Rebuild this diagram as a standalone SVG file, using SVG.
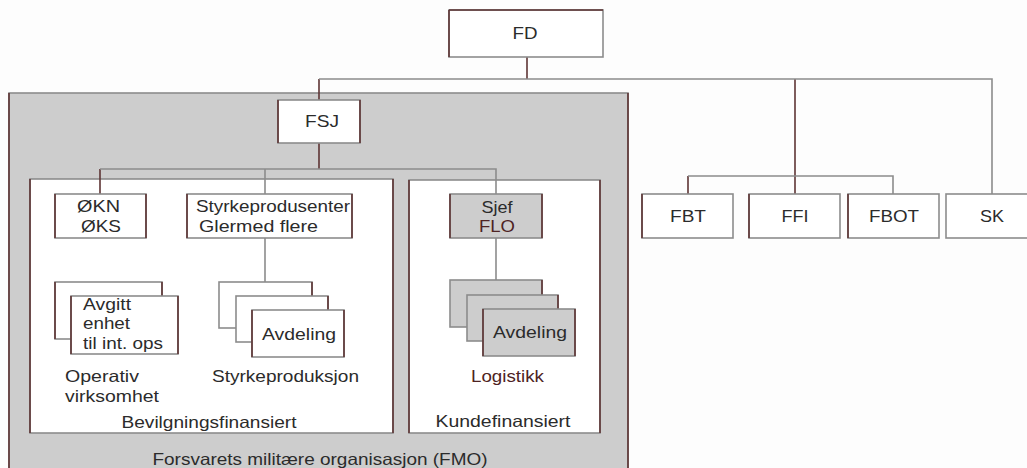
<svg xmlns="http://www.w3.org/2000/svg" width="1027" height="468" viewBox="0 0 1027 468">
<style>
text{font-family:"Liberation Sans",Arial,sans-serif;font-size:16.5px;fill:#2b2b2b}
.c{text-anchor:middle}
.m{fill:#4e2323}
.bx{fill:#fff;stroke:#8c8c8c;stroke-width:1.6}
.gb{fill:#cdcdcd;stroke:#8c8c8c;stroke-width:1.6}
.v{stroke:#5e3535;stroke-width:1.6;fill:none}
.h{stroke:#8c8c8c;stroke-width:1.6;fill:none}
</style>
<rect width="1027" height="468" fill="#fdfdfd"/>
<g id="fmo">
<rect x="9" y="93" width="619" height="390" class="gb"/>
<path d="M9 93V468M628 93V468" class="v"/>
<text x="320" y="465" class="c" textLength="335" lengthAdjust="spacingAndGlyphs">Forsvarets militære organisasjon (FMO)</text>
</g>
<g id="bevilgning">
<rect x="30" y="179" width="363" height="254" class="bx"/>
<path d="M30 179V433M393 179V433" class="v"/>
<text x="209" y="428" class="c" textLength="175" lengthAdjust="spacingAndGlyphs">Bevilgningsfinansiert</text>
</g>
<g id="kunde">
<rect x="409" y="180" width="191" height="253" class="bx"/>
<path d="M409 180V433M600 180V433" class="v"/>
<text x="503" y="427" class="c" textLength="135" lengthAdjust="spacingAndGlyphs">Kundefinansiert</text>
</g>
<g id="connectors">
<path d="M527 57V79M795 79V194M319 79V100M319 143V169M100 169V194M688 176V194" class="v"/>
<path d="M319 79H992V194M688 176H893V194M100 169H496V194M265 169V194M265 238V282M496 238V280" class="h"/>
</g>
<g id="fd">
<rect x="449" y="10" width="154" height="47" class="bx"/>
<path d="M449 10V57M449 10H603" class="v"/>
<text x="525" y="39" class="c" textLength="25" lengthAdjust="spacingAndGlyphs">FD</text>
</g>
<g id="fsj">
<rect x="278" y="100" width="82" height="43" class="bx"/>
<path d="M278 100V143M360 100V143" class="v"/>
<text x="322" y="127" class="c" textLength="34" lengthAdjust="spacingAndGlyphs">FSJ</text>
</g>
<g id="okn">
<rect x="55" y="194" width="91" height="44" class="bx"/>
<path d="M55 194V238M146 194V238" class="v"/>
<text x="98.5" y="212" class="c" textLength="43" lengthAdjust="spacingAndGlyphs">ØKN</text>
<text x="101" y="232" class="c" textLength="40" lengthAdjust="spacingAndGlyphs">ØKS</text>
</g>
<g id="styrkeprodusenter">
<rect x="187" y="194" width="165" height="44" class="bx"/>
<path d="M187 194V238M352 194V238" class="v"/>
<text x="196" y="212" textLength="154" lengthAdjust="spacingAndGlyphs">Styrkeprodusenter</text>
<text x="199" y="232" textLength="119" lengthAdjust="spacingAndGlyphs">Glermed flere</text>
</g>
<g id="sjef-flo">
<rect x="450" y="194" width="92" height="44" class="gb"/>
<path d="M450 194V238M542 194V238" class="v"/>
<text x="497" y="213" class="c" textLength="31" lengthAdjust="spacingAndGlyphs">Sjef</text>
<text x="497" y="232" class="c m" textLength="36" lengthAdjust="spacingAndGlyphs">FLO</text>
</g>
<g id="operativ">
<rect x="55" y="282" width="107" height="57" class="bx"/>
<path d="M55 282V339M162 282V296" class="v"/>
<rect x="71" y="296" width="107" height="58" class="bx"/>
<path d="M71 296V354M178 296V354" class="v"/>
<text x="83" y="310" textLength="48" lengthAdjust="spacingAndGlyphs">Avgitt</text>
<text x="83" y="329" textLength="47" lengthAdjust="spacingAndGlyphs">enhet</text>
<text x="83" y="349" textLength="80" lengthAdjust="spacingAndGlyphs">til int. ops</text>
<text x="65" y="382" textLength="74" lengthAdjust="spacingAndGlyphs">Operativ</text>
<text x="65" y="402" textLength="94" lengthAdjust="spacingAndGlyphs">virksomhet</text>
</g>
<g id="styrkeproduksjon">
<rect x="219" y="282" width="93" height="46" class="bx"/>
<path d="M312 282V296" class="v"/>
<rect x="236" y="296" width="92" height="46" class="bx"/>
<path d="M328 296V310" class="v"/>
<rect x="252" y="310" width="92" height="47" class="bx"/>
<path d="M252 310V357M344 310V357" class="v"/>
<text x="299" y="340" class="c" textLength="74" lengthAdjust="spacingAndGlyphs">Avdeling</text>
<text x="285.5" y="382" class="c" textLength="147" lengthAdjust="spacingAndGlyphs">Styrkeproduksjon</text>
</g>
<g id="logistikk">
<rect x="450" y="280" width="92" height="47" class="gb"/>
<path d="M542 280V295" class="v"/>
<rect x="467" y="295" width="91" height="46" class="gb"/>
<path d="M558 295V309" class="v"/>
<rect x="483" y="309" width="92" height="47" class="gb"/>
<path d="M483 309V356M575 309V356" class="v"/>
<text x="530" y="338" class="c" textLength="74" lengthAdjust="spacingAndGlyphs">Avdeling</text>
<text x="507.5" y="382" class="c m" textLength="73" lengthAdjust="spacingAndGlyphs">Logistikk</text>
</g>
<g id="fbt">
<rect x="642" y="194" width="91" height="44" class="bx"/>
<path d="M642 194V238" class="v"/>
<text x="688" y="222" class="c" textLength="36" lengthAdjust="spacingAndGlyphs">FBT</text>
</g>
<g id="ffi">
<rect x="749" y="194" width="91" height="44" class="bx"/>
<path d="M749 194V238" class="v"/>
<text x="795" y="222" class="c" textLength="27" lengthAdjust="spacingAndGlyphs">FFI</text>
</g>
<g id="fbot">
<rect x="848" y="194" width="91" height="44" class="bx"/>
<path d="M848 194V238" class="v"/>
<text x="894" y="222" class="c" textLength="50" lengthAdjust="spacingAndGlyphs">FBOT</text>
</g>
<g id="sk">
<rect x="946" y="194" width="91" height="44" class="bx"/>
<text x="992" y="222" class="c" textLength="24" lengthAdjust="spacingAndGlyphs">SK</text>
</g>
</svg>
